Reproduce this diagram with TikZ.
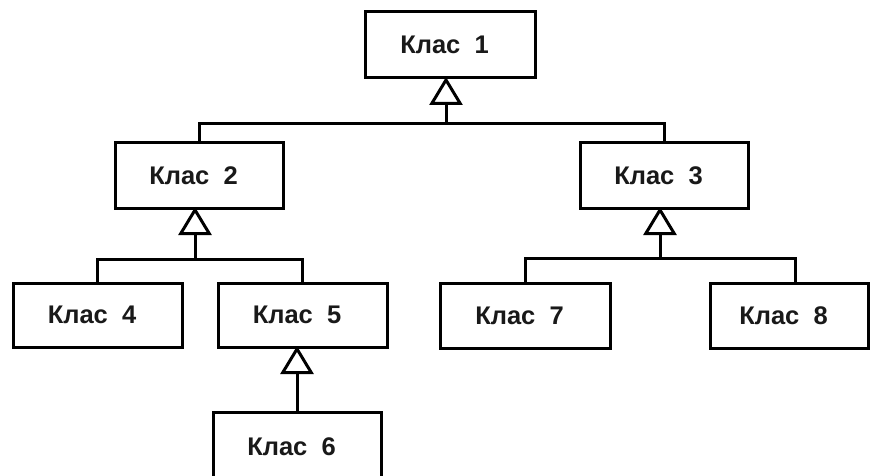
\documentclass[tikz,border=0pt]{standalone}
\usepackage{fontspec}
\setmainfont{Liberation Sans}
\usetikzlibrary{arrows.meta}
\begin{document}
\begin{tikzpicture}[x=1pt,y=-1pt,
  klass/.style={draw=black, line width=3pt, fill=white, inner sep=0pt,
    font=\fontsize{25.5}{28}\selectfont\bfseries, text=black!90,
    execute at end node={\hspace{11pt}}},
  link/.style={draw=black, line width=3pt},
  inh/.style={link, shorten >=-2.5pt, -{Triangle[open, length=28pt, width=33pt, line width=3pt]}}]
\useasboundingbox (0,0) rectangle (870,476);
\clip (0,0) rectangle (870,476);
\fill[white] (0,0) rectangle (870,476);
\node[klass, minimum width=170pt, minimum height=66pt] (k1) at (450,45) {Клас~~1};
\node[klass, minimum width=168pt, minimum height=65pt] (k2) at (199,175.5) {Клас~~2};
\node[klass, minimum width=168pt, minimum height=65pt] (k3) at (664,175.5) {Клас~~3};
\node[klass, minimum width=169pt, minimum height=64pt] (k4) at (97.5,315) {Клас~~4};
\node[klass, minimum width=169pt, minimum height=64pt] (k5) at (302.5,315) {Клас~~5};
\node[klass, minimum width=170pt, minimum height=65pt] (k7) at (525,315.5) {Клас~~7};
\node[klass, minimum width=158pt, minimum height=65pt] (k8) at (789,315.5) {Клас~~8};
\node[klass, minimum width=168pt, minimum height=70pt] (k6) at (297,447) {Клас~~6};
\coordinate (b1) at (446,124);
\coordinate (b2) at (195,259);
\coordinate (b3) at (660,258);
% Klass 1 hierarchy
\draw[link] (k2.north) |- (b1) -| (k3.north);
\draw[inh] (b1) -- (b1 |- k1.south);
% Klass 2 hierarchy
\draw[link] (k4.north) |- (b2) -| (k5.north);
\draw[inh] (b2) -- (b2 |- k2.south);
% Klass 3 hierarchy
\draw[link] (k7.north) |- (b3) -| ([xshift=6pt]k8.north);
\draw[inh] (b3) -- (b3 |- k3.south);
% Klass 5 -> 6
\draw[inh] (k6.north) -- (k6.north |- k5.south);
\end{tikzpicture}
\end{document}
